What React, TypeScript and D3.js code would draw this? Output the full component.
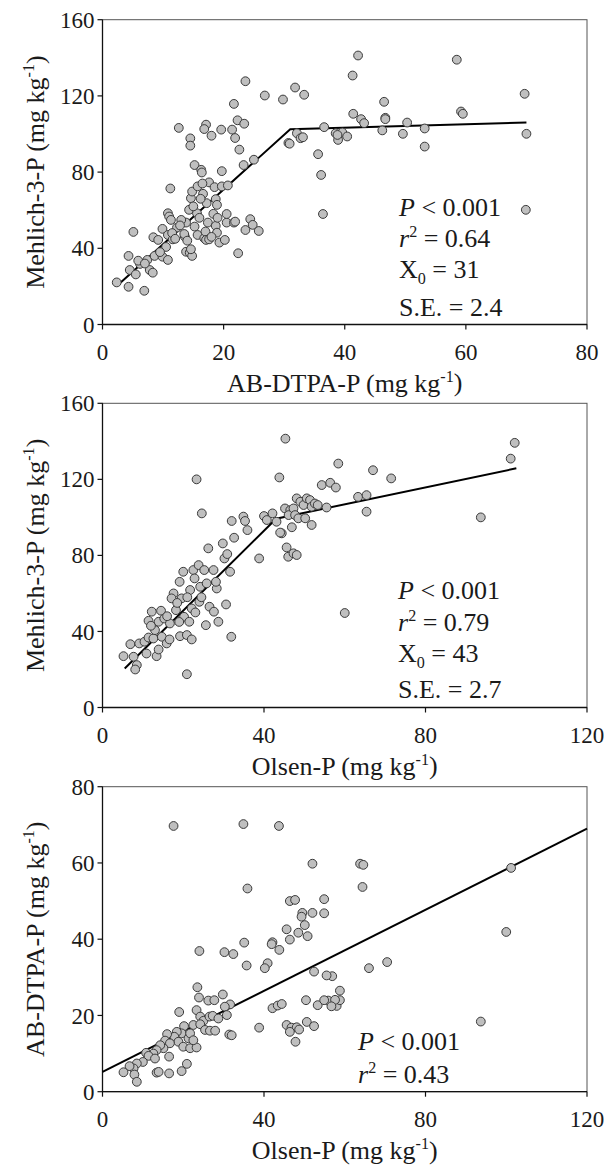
import React from "react";
import * as d3 from "d3";

// ---------- DATA ----------
// Panel 1: AB-DTPA-P (x) vs Mehlich-3-P (y)
const p1Points: [number, number][] = [
  [2.35, 22.1], [4.3, 19.8], [6.9, 17.7], [5.1, 48.6], [4.3, 36], [4.5, 28.6], [5.5, 26.3],
  [6.2, 31.8], [5.9, 33.5], [7.4, 33.9], [7.8, 28.6], [8.3, 27.2], [8.6, 36], [8.4, 45.8],
  [9.2, 44.4], [9.9, 50.2], [9.9, 35.6], [10.5, 40.7], [10.8, 33.9], [10.8, 47], [11.2, 71.4],
  [10.8, 58.4], [11, 56.7], [11.3, 54.9], [11.6, 44.7], [12.3, 50.9], [12.6, 103.2], [13.8, 38.2],
  [14.4, 37.7], [14.8, 36], [14.6, 39.5], [13.6, 46.1], [13.8, 53.5], [13, 54.9], [14.3, 60.2],
  [14.6, 66.3], [14.8, 69.8], [14.5, 97.7], [14.5, 93.9], [15.2, 83.7], [15.7, 72.5], [16.3, 81.2],
  [16.4, 79.8], [16.6, 68.6], [15.6, 58.4], [15.2, 51.4], [15.7, 47], [16.8, 45.3], [17.1, 104.9],
  [16.8, 102.6], [18, 99.1], [17.2, 63.7], [17.6, 74.6], [17.4, 53.5], [17, 48.8], [17.1, 44.4],
  [17.6, 44.7], [18.5, 72.1], [18.7, 65.8], [18.9, 62.8], [18.3, 58.1], [18.7, 51.8], [18.9, 48.2],
  [19.3, 43], [19.6, 102.3], [19.7, 80.5], [19.7, 72.5], [20.2, 44.4], [20.5, 53.5], [20.7, 73],
  [21.4, 102.3], [21.7, 115.8], [21.9, 97.9], [22.3, 107.2], [22.6, 91.8], [22.4, 37.4], [21.7, 53.5],
  [21.9, 54], [23.3, 83.7], [23.4, 105.4], [23.6, 127.7], [23.6, 49.6], [24.4, 55.3], [24.8, 52.3],
  [25.8, 49.1], [25, 86.5], [26.8, 120.2], [29.8, 118.1], [30.7, 95.3],
  [12.8, 52], [13.5, 47.5], [16, 56], [15, 62], [16.5, 74], [14, 44], [11.5, 48], [9.5, 38],
  [20.5, 58], [18, 46], [19, 56], [12, 45], [16.2, 66], [7, 32],
  [31.8, 124.4], [33.3, 120.6], [30.9, 94.9], [32.1, 100.4], [32.7, 97.8], [33.1, 98.3],
  [36.6, 103.6], [35.6, 89.4], [36.1, 78.5], [36.4, 58], [38.5, 100.4], [38.9, 96.9], [39.6, 100.8],
  [40.4, 98.7], [38.8, 99.5], [41.3, 130.7], [42.2, 141.2], [41.4, 110.6], [42.7, 107.8],
  [43.2, 105.7], [46.2, 101.9], [46.5, 116.9], [46.7, 108.5], [46.7, 107.8], [49.6, 100.1],
  [50.3, 106], [53.2, 102.9], [53.2, 93.4], [58.5, 139], [59.2, 111.8], [59.5, 110.6],
  [69.7, 121.1], [70, 100.1], [69.9, 60.2],
];
const p1Fit: [number, number][] = [[3, 22], [31, 102.5], [70, 106]];
const p1XTicks = [0, 20, 40, 60, 80];
const p1YTicks = [0, 40, 80, 120, 160];

// Panel 2: Olsen-P (x) vs Mehlich-3-P (y)
const p2Points: [number, number][] = [
  [5.2, 27], [6.9, 33.3], [7.7, 26.7], [8.5, 22.3], [8.1, 20], [9.1, 33.7], [10.4, 34.6],
  [10.9, 28.4], [11.4, 36.8], [12.2, 50.4], [11.4, 45.6], [12.6, 36.3], [13.4, 27], [13.9, 30.5],
  [13, 40.7], [13.9, 45.1], [14.5, 50.9], [14.7, 37.2], [15.9, 33.7], [16.6, 35.8], [15.3, 46.8],
  [16.7, 44.2], [17.6, 60], [17.1, 57.4], [18.2, 51.2], [19.1, 66.1], [19.6, 57.4], [20, 71.4],
  [20.2, 47.7], [19.2, 37.5], [20.9, 38.1], [20.9, 17.5], [22.1, 35.8], [21.5, 45.1], [22.1, 52.1],
  [21.7, 61.8], [22.5, 72.3], [22.8, 67.9], [23.3, 120], [23.8, 74.9], [24.2, 63.5], [24, 55.6],
  [24.6, 102.1], [25.2, 72.3], [25.8, 65.3], [25.6, 43.3], [26.2, 83.7], [26.5, 53], [27.5, 72.3],
  [27.6, 50.4], [28.3, 62.6], [28.1, 66.1], [28.7, 45.1], [29.8, 86.3], [30.2, 78.4], [30.9, 80.7],
  [30.6, 54.2], [31.6, 71.4], [31.9, 37.2], [32, 98.1], [32.6, 89.3], [34.9, 100.4], [35.3, 98.1],
  [35.9, 93.3], [38.8, 78.4], [40, 100.7], [40.7, 98.6], [42.1, 102.1], [43.1, 97.7], [43.8, 121],
  [44.4, 91.6], [45.2, 104.7], [45.6, 84.2], [46, 79.3],
  [16, 48], [18.5, 55], [21, 58], [23, 50], [12, 43], [19, 45], [24.5, 58],
  [45.3, 141.4], [46.5, 103.8], [46.1, 101.2], [48.1, 110], [49, 108.2], [49.8, 106.5],
  [47.3, 104.7], [47.7, 101.2], [48.5, 99.5], [50.2, 99.5], [51.8, 96], [46.9, 94.8], [44, 92],
  [50.6, 110], [51.4, 109.1], [51.8, 105.6], [52.6, 107.3], [53.3, 106.5], [55.5, 105.2],
  [54.3, 117], [56.4, 118.2], [57.8, 115.7], [58.4, 128.3], [47.3, 81.1], [48.1, 80.2],
  [60, 49.7], [63.3, 110.8], [65.4, 111.7], [65.4, 103], [67, 124.8], [71.5, 120.5],
  [93.7, 100], [101.1, 130.9], [102.1, 139.2],
];
const p2Fit: [number, number][] = [[5.5, 20.5], [43, 99.3], [102.5, 125.8]];
const p2XTicks = [0, 40, 80, 120];
const p2YTicks = [0, 40, 80, 120, 160];

// Panel 3: Olsen-P (x) vs AB-DTPA-P (y)
const p3Points: [number, number][] = [
  [17.6, 69.7], [34.9, 70.2], [43.7, 69.7], [52, 59.8], [35.9, 53.3], [46.4, 50], [47.7, 50.3],
  [54.9, 50.5], [49.5, 46.9], [52, 46.9], [54.9, 46.8], [49.3, 45.9], [50.1, 43.7], [45.6, 42.6],
  [48.5, 41.7], [50.8, 40.8], [46.4, 39.9], [42.1, 39.2], [41.9, 38.7], [43.8, 37.2], [35.1, 39.1],
  [24, 36.9], [30.2, 36.6], [32.4, 36.1], [35.7, 33.1], [40.9, 33.7], [40.2, 32.4], [52.4, 31.5],
  [56.9, 30.3], [23.5, 27.4], [23.9, 24.7], [26.2, 23.9], [27.7, 24], [29.8, 25.5], [31.6, 22.9],
  [30.3, 22.3], [42.1, 21.9], [43.4, 22.6], [44.4, 23], [50.4, 24], [53.3, 22.7], [55.9, 23.9],
  [58, 22.5], [58.8, 24], [38.8, 16.8], [45.6, 17.5], [46.8, 16.8], [48.1, 16.9], [50.6, 18.3],
  [52.4, 17.2], [46.4, 15.7], [47.8, 13.1], [48.7, 16.3], [19, 20.9], [23.3, 21.4], [24.2, 19.7],
  [25, 18.6], [26.5, 19.7], [27.3, 19.9], [28.7, 19.2], [30.8, 20.1], [22.5, 17.5], [24.2, 17.7],
  [25.4, 16.2], [26.6, 16], [27.9, 16], [31.4, 15], [32, 14.8], [20.2, 17.2], [19.6, 15.3],
  [18.4, 15.7], [17.8, 14.4], [18.8, 13.1], [20, 11.8], [21.7, 11.4], [23.3, 11.6], [21.3, 14],
  [21.7, 15.3], [22.5, 13.5], [16, 15.1], [15.5, 13.4], [16.7, 12.7], [15.1, 11.4], [16.5, 9.2],
  [14.3, 12.2], [13.4, 10.9], [12.6, 10], [10.8, 10.2], [11.4, 9.4], [13, 8.7], [10, 7.8],
  [8.5, 7.4], [7.7, 6.1], [6.7, 6.7], [5.2, 5.1], [7.9, 4.5], [8.5, 2.6], [13.4, 5], [13.9, 5.2],
  [16.5, 4.8], [19.6, 5.4], [20.9, 7.3],
  [63.8, 59.8], [64.6, 59.5], [64.4, 53.7], [101.2, 58.7], [100, 41.9], [70.5, 34], [66, 32.4],
  [55.5, 30.5], [58.8, 26.5], [57.6, 24.1], [56.7, 22.4], [54.9, 24], [93.7, 18.4],
];
const p3Fit: [number, number][] = [[0, 5.2], [120, 69]];
const p3XTicks = [0, 40, 80, 120];
const p3YTicks = [0, 20, 40, 60, 80];

// ---------- STYLE ----------
const FONT = "Liberation Serif, serif";
const LEFT = 102.5;
const RIGHT = 587;
const TICK_FS = 23;
const TITLE_FS = 26;
const ANN_FS = 26;
const textStyle = { fontFamily: FONT };

type Ann = { kind: "P" | "r2" | "X0" | "SE"; value: string; y: number };

function Unit() {
  return (
    <>
      <tspan> (mg kg</tspan>
      <tspan fontSize="0.62em" dy="-0.62em">-1</tspan>
      <tspan dy="0.38em">)</tspan>
    </>
  );
}

function Panel(props: {
  top: number;
  bottom: number;
  xMax: number;
  yMax: number;
  xTicks: number[];
  yTicks: number[];
  points: [number, number][];
  fit: [number, number][];
  xTitle: string;
  yTitle: string;
  annX: number;
  anns: Ann[];
}) {
  const { top, bottom, xMax, yMax, xTicks, yTicks, points, fit, xTitle, yTitle, annX, anns } = props;
  const x = d3.scaleLinear().domain([0, xMax]).range([LEFT, RIGHT]);
  const y = d3.scaleLinear().domain([0, yMax]).range([bottom, top]);
  const line = d3
    .line<[number, number]>()
    .x((d) => x(d[0]))
    .y((d) => y(d[1]));
  const cy = (top + bottom) / 2;
  return (
    <g>
      <rect x={LEFT} y={top} width={RIGHT - LEFT} height={bottom - top} fill="none" stroke="#555" strokeWidth={1} />
      <line x1={LEFT} x2={LEFT} y1={top} y2={bottom} stroke="#111" strokeWidth={1.3} />
      <line x1={LEFT} x2={RIGHT} y1={bottom} y2={bottom} stroke="#111" strokeWidth={1.3} />
      {yTicks.map((t) => (
        <g key={"y" + t}>
          <line x1={LEFT - 5} x2={LEFT} y1={y(t)} y2={y(t)} stroke="#111" strokeWidth={1.2} />
          <text x={LEFT - 8} y={y(t)} dy="0.35em" textAnchor="end" fontSize={TICK_FS} style={textStyle} fill="#1a1a1a">
            {t}
          </text>
        </g>
      ))}
      {xTicks.map((t) => (
        <g key={"x" + t}>
          <line x1={x(t)} x2={x(t)} y1={bottom} y2={bottom + 5} stroke="#111" strokeWidth={1.2} />
          <text x={x(t)} y={bottom + 35} textAnchor="middle" fontSize={TICK_FS} style={textStyle} fill="#1a1a1a">
            {t}
          </text>
        </g>
      ))}
      <text x={(LEFT + RIGHT) / 2} y={bottom + 67} textAnchor="middle" fontSize={TITLE_FS} style={textStyle} fill="#1a1a1a">
        {xTitle}
        <Unit />
      </text>
      <text
        transform={`translate(44,${cy}) rotate(-90)`}
        textAnchor="middle"
        fontSize={TITLE_FS}
        style={textStyle}
        fill="#1a1a1a"
      >
        {yTitle}
        <Unit />
      </text>
      <path d={line(fit) || ""} fill="none" stroke="#000" strokeWidth={2} />
      {points.map((p, i) => (
        <circle key={i} cx={x(p[0])} cy={y(p[1])} r={4.4} fill="#bfbfbf" stroke="#3a3a3a" strokeWidth={1} />
      ))}
      {anns.map((a) => (
        <text key={a.kind} x={annX} y={a.y} fontSize={ANN_FS} style={textStyle} fill="#1a1a1a">
          {a.kind === "P" && (
            <>
              <tspan fontStyle="italic">P</tspan>
              <tspan> &lt; {a.value}</tspan>
            </>
          )}
          {a.kind === "r2" && (
            <>
              <tspan fontStyle="italic">r</tspan>
              <tspan fontSize="0.62em" dy="-0.6em">2</tspan>
              <tspan dy="0.37em"> = {a.value}</tspan>
            </>
          )}
          {a.kind === "X0" && (
            <>
              <tspan>X</tspan>
              <tspan fontSize="0.62em" dy="0.35em">0</tspan>
              <tspan dy="-0.22em"> = {a.value}</tspan>
            </>
          )}
          {a.kind === "SE" && <tspan>S.E. = {a.value}</tspan>}
        </text>
      ))}
    </g>
  );
}

export default function App() {
  return (
    <div style={{ position: "absolute", left: 0, top: 0 }}>
      <svg width={608} height={1165} style={{ display: "block", background: "#fff" }}>
        <Panel
          top={19.7}
          bottom={324.5}
          xMax={80}
          yMax={160}
          xTicks={p1XTicks}
          yTicks={p1YTicks}
          points={p1Points}
          fit={p1Fit}
          xTitle="AB-DTPA-P"
          yTitle="Mehlich-3-P"
          annX={399}
          anns={[
            { kind: "P", value: "0.001", y: 216 },
            { kind: "r2", value: "0.64", y: 247 },
            { kind: "X0", value: "31", y: 278 },
            { kind: "SE", value: "2.4", y: 316 },
          ]}
        />
        <Panel
          top={403.3}
          bottom={707.5}
          xMax={120}
          yMax={160}
          xTicks={p2XTicks}
          yTicks={p2YTicks}
          points={p2Points}
          fit={p2Fit}
          xTitle="Olsen-P"
          yTitle="Mehlich-3-P"
          annX={398}
          anns={[
            { kind: "P", value: "0.001", y: 599 },
            { kind: "r2", value: "0.79", y: 631 },
            { kind: "X0", value: "43", y: 662 },
            { kind: "SE", value: "2.7", y: 698 },
          ]}
        />
        <Panel
          top={786.7}
          bottom={1091.7}
          xMax={120}
          yMax={80}
          xTicks={p3XTicks}
          yTicks={p3YTicks}
          points={p3Points}
          fit={p3Fit}
          xTitle="Olsen-P"
          yTitle="AB-DTPA-P"
          annX={358}
          anns={[
            { kind: "P", value: "0.001", y: 1050 },
            { kind: "r2", value: "0.43", y: 1083 },
          ]}
        />
      </svg>
    </div>
  );
}
